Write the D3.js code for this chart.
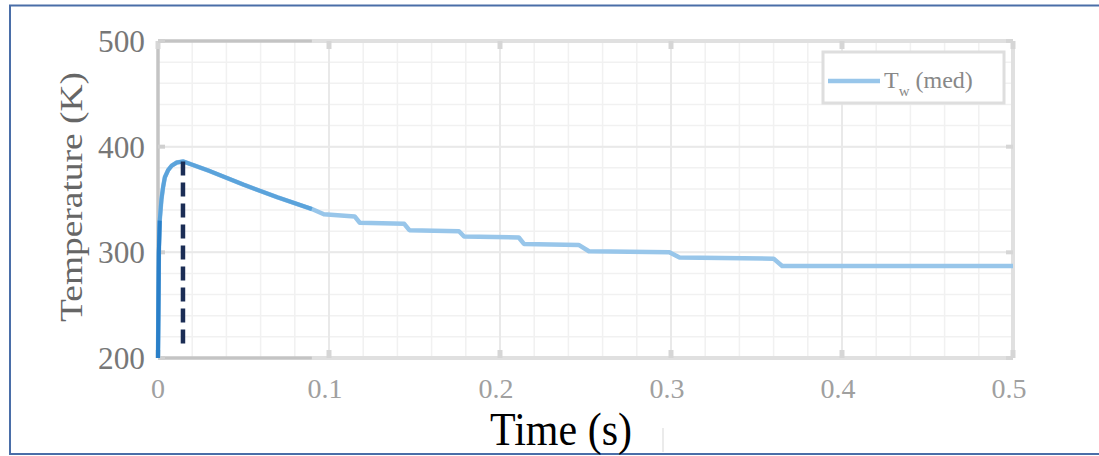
<!DOCTYPE html>
<html><head><meta charset="utf-8">
<script src="https://cdn.jsdelivr.net/npm/d3@7"></script>
<style>html,body{margin:0;padding:0;background:#fff;}svg{display:block;}</style>
</head><body>
<svg id="c" width="1099" height="456"></svg>
<script>
const timeS = [0,0.0005,0.001,0.002,0.003,0.004,0.006,0.008,0.011,0.0146,0.03,0.05,0.07,0.09,0.097,0.115,0.118,0.144,0.147,0.176,0.179,0.211,0.214,0.246,0.252,0.299,0.305,0.36,0.365,0.5];
const tempK = [200,300,330,350,362,371,378,382,385,386,377,364,352,341,336,334,328,327,321,320,315,314,308,307,301,300,295,294,287,287];
const xTicks = [0,0.1,0.2,0.3,0.4,0.5];
const xTickLabels = ["0","0.1","0.2","0.3","0.4","0.5"];
const yTicks = [200,300,400,500];
const yTickLabels = ["200","300","400","500"];
const peakTime = [0.0146];
const peakRange = [210,386];
const legendLabel = ["T","w"," (med)"];

const svg = d3.select("#c");
const L=158,R=1013,T=41,B=358;
const x = d3.scaleLinear().domain([0,0.5]).range([L,R]);
const y = d3.scaleLinear().domain([200,500]).range([B,T]);

// outer blue border
svg.append("rect").attr("x",10).attr("y",5.5).attr("width",1120).attr("height",448.5)
  .attr("fill","none").attr("stroke","#4a6ea8").attr("stroke-width",2);

// grid minor
const g = svg.append("g");
d3.range(0,0.5001,0.02).forEach(v=>{
  g.append("line").attr("x1",x(v)).attr("x2",x(v)).attr("y1",T).attr("y2",B).attr("stroke","#f1f1f1").attr("stroke-width",1.5);
});
d3.range(200,500.1,20).forEach(v=>{
  g.append("line").attr("x1",L).attr("x2",R).attr("y1",y(v)).attr("y2",y(v)).attr("stroke","#f1f1f1").attr("stroke-width",1.5);
});
// major grid
xTicks.forEach(v=>{
  g.append("line").attr("x1",x(v)).attr("x2",x(v)).attr("y1",T).attr("y2",B).attr("stroke","#e9e9e9").attr("stroke-width",2);
});
yTicks.forEach(v=>{
  g.append("line").attr("x1",L).attr("x2",R).attr("y1",y(v)).attr("y2",y(v)).attr("stroke","#e9e9e9").attr("stroke-width",2);
});

// frame
const fr = svg.append("g");
fr.append("line").attr("x1",x(0.09)).attr("x2",R).attr("y1",T).attr("y2",T).attr("stroke","#e0e0e0").attr("stroke-width",4);
fr.append("line").attr("x1",x(0.09)).attr("x2",R).attr("y1",B).attr("y2",B).attr("stroke","#e0e0e0").attr("stroke-width",4);
fr.append("line").attr("x1",R).attr("x2",R).attr("y1",T).attr("y2",B).attr("stroke","#e0e0e0").attr("stroke-width",4);
fr.append("line").attr("x1",L).attr("x2",x(0.09)).attr("y1",T).attr("y2",T).attr("stroke","#c4c4c4").attr("stroke-width",3.5);
fr.append("line").attr("x1",L).attr("x2",x(0.09)).attr("y1",B).attr("y2",B).attr("stroke","#c4c4c4").attr("stroke-width",3.5);
fr.append("line").attr("x1",L).attr("x2",L).attr("y1",T).attr("y2",B).attr("stroke","#c4c4c4").attr("stroke-width",3.5);
// ticks inside
xTicks.forEach(v=>{
  fr.append("line").attr("x1",x(v)).attr("x2",x(v)).attr("y1",B).attr("y2",B-8).attr("stroke","#d6d6d6").attr("stroke-width",5);
  fr.append("line").attr("x1",x(v)).attr("x2",x(v)).attr("y1",T).attr("y2",T+8).attr("stroke","#d6d6d6").attr("stroke-width",5);
});
yTicks.forEach(v=>{
  fr.append("line").attr("x1",L).attr("x2",L+7).attr("y1",y(v)).attr("y2",y(v)).attr("stroke","#d0d0d0").attr("stroke-width",4);
  fr.append("line").attr("x1",R).attr("x2",R-7).attr("y1",y(v)).attr("y2",y(v)).attr("stroke","#d6d6d6").attr("stroke-width",4);
});

// tick labels
const serif = "'Liberation Serif','DejaVu Serif',serif";
yTicks.forEach((v,i)=>{
  svg.append("text").attr("x",145).attr("y",y(v)+11).attr("text-anchor","end")
    .attr("font-family",serif).attr("font-size",31).attr("fill","#777")
    .attr("textLength",47).attr("lengthAdjust","spacingAndGlyphs").text(yTickLabels[i]);
});
xTicks.forEach((v,i)=>{
  svg.append("text").attr("x",x(v)-(i===0?0:4)).attr("y",398).attr("text-anchor","middle")
    .attr("font-family",serif).attr("font-size",28).attr("fill","#a0a0a0").text(xTickLabels[i]);
});

// axis titles
svg.append("text").attr("transform","translate(82,197) rotate(-90)").attr("text-anchor","middle")
  .attr("font-family",serif).attr("font-size",31).attr("fill","#666")
  .attr("textLength",250).attr("lengthAdjust","spacingAndGlyphs").text("Temperature (K)");

svg.append("rect").attr("x",460).attr("y",428).attr("width",204).attr("height",25).attr("fill","#fff");
svg.append("line").attr("x1",663).attr("x2",663).attr("y1",428).attr("y2",452).attr("stroke","#e4e4e4").attr("stroke-width",1.5);
svg.append("text").attr("transform","translate(561,445) scale(1,1.12)").attr("text-anchor","middle")
  .attr("font-family",serif).attr("font-size",42).attr("fill","#000").text("Time (s)");

// series
const pts = timeS.map((t,i)=>[t,tempK[i]]);
const line = d3.line().x(d=>x(d[0])).y(d=>y(d[1]));
svg.append("path").datum(pts).attr("d",line).attr("fill","none")
  .attr("stroke","#98c6ea").attr("stroke-width",4.5).attr("stroke-linejoin","round");
svg.append("path").datum(pts.filter(d=>d[0]<=0.09)).attr("d",line).attr("fill","none")
  .attr("stroke","#5ba3db").attr("stroke-width",4).attr("stroke-linejoin","round");
svg.append("path").datum(pts.filter(d=>d[0]<=0.001)).attr("d",line).attr("fill","none")
  .attr("stroke","#2a7fc8").attr("stroke-width",4);

// dashed peak marker
svg.append("line").attr("x1",x(peakTime[0])).attr("x2",x(peakTime[0]))
  .attr("y1",y(peakRange[1])).attr("y2",y(peakRange[0]))
  .attr("stroke","#1b2d55").attr("stroke-width",4.5).attr("stroke-dasharray","14,7");

// legend
const lg = svg.append("g");
lg.append("rect").attr("x",823).attr("y",52).attr("width",181).attr("height",51)
  .attr("fill","#fff").attr("stroke","#dedede").attr("stroke-width",3);
lg.append("line").attr("x1",828).attr("x2",880).attr("y1",81).attr("y2",81)
  .attr("stroke","#98c6ea").attr("stroke-width",4.5);
const lt = lg.append("text").attr("x",884).attr("y",88).attr("font-family",serif).attr("font-size",24).attr("fill","#888");
lt.append("tspan").text(legendLabel[0]);
lt.append("tspan").attr("font-size",15).attr("dy",8).text(legendLabel[1]);
lt.append("tspan").attr("dy",-8).text(legendLabel[2]);
</script>
</body></html>
